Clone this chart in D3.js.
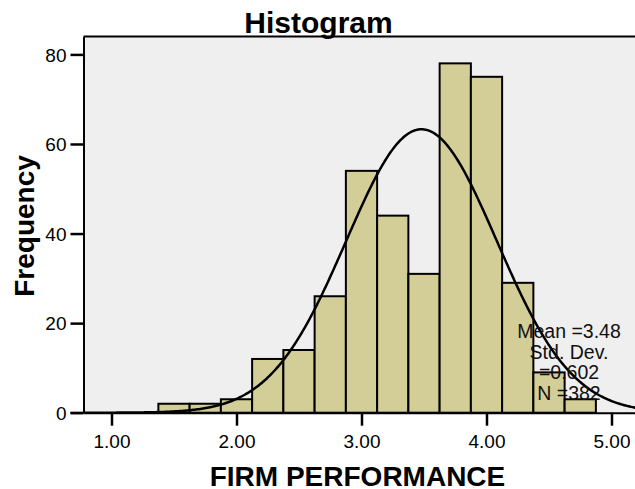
<!DOCTYPE html>
<html>
<head>
<meta charset="utf-8">
<script src="https://cdn.jsdelivr.net/npm/d3@7"></script>
<style>
  html, body { margin: 0; padding: 0; background: #ffffff; }
  svg { display: block; font-family: "Liberation Sans", Arial, sans-serif; }
</style>
</head>
<body>
<svg id="chart" width="635" height="489"></svg>
<script>
// ---- data ----
const binLower = [1.375, 1.625, 1.875, 2.125, 2.375, 2.625, 2.875, 3.125, 3.375, 3.625, 3.875, 4.125, 4.375, 4.625];
const binWidth = 0.25;
const counts   = [2, 2, 3, 12, 14, 26, 54, 44, 31, 78, 75, 29, 9, 3];
const xTicks = [1, 2, 3, 4, 5];
const yTicks = [0, 20, 40, 60, 80];
const statMean = 3.48;
const statSD = 0.602;
const statN = 382;
const legendLines = ["Mean =3.48", "Std. Dev.", "=0.602", "N =382"];
const titleText = "Histogram";
const xLabel = "FIRM PERFORMANCE";
const yLabel = "Frequency";

// ---- layout ----
const svg = d3.select("#chart");
const plotLeft = 83.5, plotRight = 639.5, plotTop = 36.5, plotBottom = 412.7;

const x = d3.scaleLinear().domain([0.776, 5.224]).range([plotLeft, plotRight]);
const y = d3.scaleLinear().domain([0, 84]).range([plotBottom, plotTop]);

// background
svg.append("rect")
  .attr("x", plotLeft).attr("y", plotTop)
  .attr("width", plotRight - plotLeft).attr("height", plotBottom - plotTop)
  .attr("fill", "#efefef");

// bars
svg.append("g").selectAll("rect")
  .data(binLower.map((b, i) => ({ lo: b, hi: b + binWidth, c: counts[i] })))
  .join("rect")
  .attr("x", d => x(d.lo))
  .attr("y", d => y(d.c))
  .attr("width", d => x(d.hi) - x(d.lo))
  .attr("height", d => y(0) - y(d.c))
  .attr("fill", "#d3ce98")
  .attr("stroke", "#000")
  .attr("stroke-width", 2);

// fitted normal curve
const curvePts = d3.range(0, 401).map(i => {
  const v = x.domain()[0] + (x.domain()[1] - x.domain()[0]) * i / 400;
  const z = (v - statMean) / statSD;
  return [v, statN * binWidth / (statSD * Math.sqrt(2 * Math.PI)) * Math.exp(-0.5 * z * z)];
});
svg.append("path")
  .datum(curvePts)
  .attr("fill", "none")
  .attr("stroke", "#000")
  .attr("stroke-width", 2.5)
  .attr("d", d3.line().x(d => x(d[0])).y(d => y(d[1])));

// top frame line
svg.append("line")
  .attr("x1", plotLeft).attr("x2", plotRight)
  .attr("y1", plotTop).attr("y2", plotTop)
  .attr("stroke", "#000").attr("stroke-width", 2);

// axes
const yAxis = svg.append("g")
  .attr("transform", `translate(${plotLeft},0)`)
  .call(d3.axisLeft(y).tickValues(yTicks).tickSize(13).tickSizeOuter(0).tickPadding(4));
yAxis.select(".domain").attr("stroke-width", 2);
yAxis.selectAll(".tick line").attr("stroke-width", 2.5);
yAxis.selectAll(".tick text")
  .attr("font-size", 19).attr("font-family", "Liberation Sans, Arial, sans-serif")
  .attr("fill", "#000").attr("dy", "0.36em");

const xAxis = svg.append("g")
  .attr("transform", `translate(0,${plotBottom})`)
  .call(d3.axisBottom(x).tickValues(xTicks).tickFormat(d3.format(".2f")).tickSize(13).tickSizeOuter(0).tickPadding(8.5));
xAxis.select(".domain").attr("stroke-width", 2);
xAxis.selectAll(".tick line").attr("stroke-width", 2.5);
xAxis.selectAll(".tick text")
  .attr("font-size", 19).attr("font-family", "Liberation Sans, Arial, sans-serif")
  .attr("fill", "#000");

// extend bottom line to the zero tick
svg.append("line")
  .attr("x1", plotLeft - 13).attr("x2", plotLeft)
  .attr("y1", plotBottom).attr("y2", plotBottom)
  .attr("stroke", "#000").attr("stroke-width", 2);

// title
svg.append("text")
  .attr("x", 318.5).attr("y", 33)
  .attr("text-anchor", "middle")
  .attr("font-size", 30).attr("font-weight", "bold")
  .text(titleText);

// axis titles
svg.append("text")
  .attr("x", 357.5).attr("y", 486)
  .attr("text-anchor", "middle")
  .attr("font-size", 28).attr("font-weight", "bold")
  .text(xLabel);

svg.append("text")
  .attr("transform", "translate(33.5,226) rotate(-90)")
  .attr("text-anchor", "middle")
  .attr("font-size", 28).attr("font-weight", "bold")
  .text(yLabel);

// legend stats
svg.append("g").selectAll("text")
  .data(legendLines)
  .join("text")
  .attr("x", 569)
  .attr("y", (d, i) => 338.3 + i * 20.55)
  .attr("text-anchor", "middle")
  .attr("font-size", 19.5)
  .attr("fill", "#111")
  .text(d => d);
</script>
</body>
</html>
